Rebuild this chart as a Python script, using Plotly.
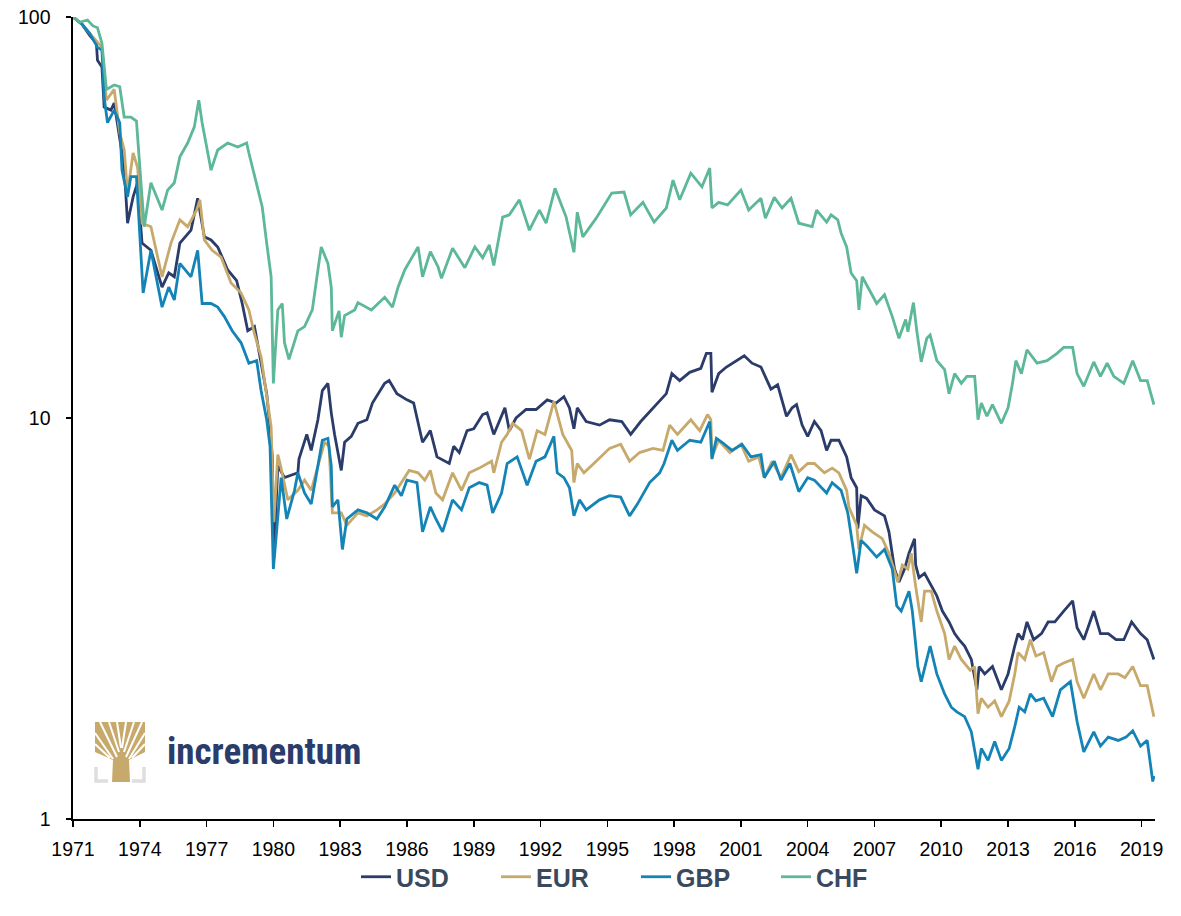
import plotly.graph_objects as go

# ---------------- data ----------------
tick_years = [1971, 1974, 1977, 1980, 1983, 1986, 1989, 1992, 1995, 1998,
              2001, 2004, 2007, 2010, 2013, 2016, 2019]
y_ticks = [1, 10, 100]

usd_years = [1971.0, 1971.4, 1971.75, 1972.05, 1972.1, 1972.3, 1972.4, 1972.7, 1972.85, 1973.1,
             1973.3, 1973.45, 1973.7, 1973.9, 1974.1, 1974.5, 1975.0, 1975.3, 1975.55, 1975.8,
             1976.3, 1976.6, 1976.9, 1977.2, 1977.5, 1977.95, 1978.35, 1978.6, 1978.85, 1979.15,
             1979.45, 1979.7, 1979.85, 1979.95, 1980.02, 1980.2, 1980.5, 1981.1, 1981.15, 1981.5,
             1981.7, 1982.0, 1982.2, 1982.45, 1982.6, 1982.75, 1983.05, 1983.2, 1983.5, 1983.8,
             1984.2, 1984.45, 1985.0, 1985.2, 1985.55, 1986.0, 1986.3, 1986.7, 1987.05, 1987.35,
             1987.9, 1988.1, 1988.35, 1988.7, 1989.0, 1989.4, 1989.6, 1989.9, 1990.4, 1990.6,
             1990.9, 1991.35, 1991.8, 1992.3, 1992.7, 1993.05, 1993.3, 1993.5, 1993.65, 1994.05,
             1994.65, 1995.1, 1995.65, 1996.05, 1996.5, 1997.0, 1997.35, 1997.65, 1997.9, 1998.25,
             1998.7, 1999.2, 1999.45, 1999.65, 1999.7, 2000.0, 2000.35, 2000.8, 2001.15, 2001.5,
             2001.9, 2002.35, 2002.65, 2003.05, 2003.3, 2003.5, 2003.75, 2004.0, 2004.3, 2004.6,
             2004.85, 2005.05, 2005.4, 2005.75, 2005.95, 2006.2, 2006.25, 2006.4, 2006.65, 2007.0,
             2007.45, 2007.65, 2007.9, 2008.1, 2008.35, 2008.55, 2008.8, 2008.85, 2009.0, 2009.25,
             2009.55, 2009.8, 2010.05, 2010.35, 2010.6, 2010.8, 2011.05, 2011.35, 2011.6, 2011.7,
             2011.95, 2012.3, 2012.7, 2013.0, 2013.3, 2013.45, 2013.65, 2013.85, 2014.15, 2014.5,
             2014.8, 2015.1, 2015.5, 2015.9, 2016.1, 2016.4, 2016.85, 2017.15, 2017.5, 2017.85,
             2018.2, 2018.55, 2018.95, 2019.25, 2019.55]
usd_values = [100, 96, 90, 86, 78, 75, 59.6, 58.6, 61, 49.3,
              42.2, 30.6, 35.6, 38.6, 27.3, 26.2, 21.2, 23, 22.5, 27.3,
              29.4, 35.3, 28.3, 27.8, 26.7, 23.4, 22, 19.3, 16.5, 16.9,
              13.7, 11.5, 9.5, 8.0, 4.5, 7.6, 7.1, 7.3, 7.9, 9.1,
              8.3, 9.9, 11.7, 12.2, 10.3, 9.1, 7.4, 8.7, 9.0, 9.7,
              9.9, 10.9, 12.2, 12.4, 11.5, 11.1, 10.9, 8.7, 9.3, 8.0,
              7.7, 8.5, 8.2, 9.3, 9.4, 10.2, 10.3, 9.1, 10.6, 9.3,
              10.0, 10.5, 10.5, 11.1, 10.9, 11.3, 10.6, 9.4, 10.6, 9.8,
              9.6, 9.9, 9.8, 9.1, 9.8, 10.5, 11.0, 11.5, 12.9, 12.4,
              13.0, 13.3, 14.5, 14.5, 11.6, 12.9, 13.4, 13.9, 14.3, 13.7,
              13.4, 11.8, 12.1, 10.1, 10.6, 10.8, 9.6, 9.0, 9.8, 9.3,
              8.3, 8.8, 8.8, 8.0, 7.1, 6.7, 5.3, 6.4, 6.3, 5.9,
              5.7, 5.2, 4.2, 3.9, 4.2, 4.6, 5.0, 4.3, 4.0, 4.1,
              3.8, 3.6, 3.3, 3.1, 2.9, 2.8, 2.7, 2.5, 2.1, 2.4,
              2.3, 2.4, 2.1, 2.3, 2.7, 2.9, 2.8, 3.1, 2.8, 2.9,
              3.1, 3.1, 3.3, 3.5, 3.0, 2.8, 3.3, 2.9, 2.9, 2.8,
              2.8, 3.1, 2.9, 2.8, 2.5]

eur_years = [1971.0, 1971.4, 1971.75, 1972.05, 1972.3, 1972.5, 1972.85, 1973.1, 1973.3, 1973.45,
             1973.7, 1973.9, 1974.1, 1974.5, 1975.0, 1975.4, 1975.8, 1976.15, 1976.55, 1976.7,
             1976.9, 1977.25, 1977.65, 1978.1, 1978.55, 1978.9, 1979.15, 1979.45, 1979.7, 1979.9,
             1980.02, 1980.2, 1980.3, 1980.65, 1981.1, 1981.4, 1981.7, 1982.0, 1982.3, 1982.5,
             1982.65, 1983.05, 1983.3, 1983.8, 1984.2, 1984.65, 1985.0, 1985.45, 1985.75, 1986.1,
             1986.5, 1986.8, 1987.05, 1987.3, 1987.6, 1988.05, 1988.45, 1988.8, 1989.25, 1989.8,
             1989.9, 1990.25, 1990.5, 1990.75, 1991.15, 1991.5, 1991.85, 1992.2, 1992.6, 1993.0,
             1993.4, 1993.5, 1993.65, 1993.95, 1994.5, 1995.1, 1995.6, 1996.0, 1996.45, 1997.05,
             1997.5, 1997.8, 1998.15, 1998.75, 1999.15, 1999.5, 1999.65, 1999.7, 2000.0, 2000.5,
             2001.0, 2001.35, 2001.8, 2002.05, 2002.4, 2002.8, 2003.25, 2003.6, 2004.0, 2004.3,
             2004.75, 2005.1, 2005.4, 2005.75, 2005.85, 2006.2, 2006.3, 2006.55, 2006.9, 2007.35,
             2007.65, 2008.05, 2008.25, 2008.5, 2008.65, 2008.85, 2009.1, 2009.25, 2009.55, 2009.8,
             2010.15, 2010.35, 2010.6, 2010.9, 2011.3, 2011.5, 2011.65, 2011.8, 2012.1, 2012.4,
             2012.7, 2013.05, 2013.3, 2013.45, 2013.75, 2014.0, 2014.25, 2014.6, 2014.95, 2015.2,
             2015.5, 2015.9, 2016.1, 2016.4, 2016.85, 2017.15, 2017.5, 2017.95, 2018.25, 2018.6,
             2018.95, 2019.25, 2019.55]
eur_values = [100, 96, 91, 87, 84, 62, 66, 51.4, 46.6, 36.4,
              45.8, 42.2, 30.6, 30.0, 22.5, 27.3, 31.2, 30, 33, 35,
              27.8, 26.2, 25.2, 21.7, 20.5, 18.6, 16.2, 14.2, 11.5, 9.5,
              5.5, 8.1, 7.7, 6.25, 6.6, 7.0, 6.6, 7.6, 8.7, 8.5,
              5.8, 5.8, 5.4, 5.8, 5.7, 5.9, 6.1, 6.5, 6.9, 7.4,
              7.3, 7.0, 7.4, 6.5, 6.25, 7.3, 6.6, 7.3, 7.5, 7.8,
              7.3, 8.7, 9.1, 9.7, 9.3, 7.9, 9.3, 9.1, 11.0, 9.1,
              8.3, 6.9, 7.7, 7.3, 7.8, 8.4, 8.6, 7.8, 8.2, 8.4,
              8.3, 9.6, 9.1, 9.9, 9.3, 10.2, 9.9, 8.0, 8.8, 8.2,
              8.6, 7.8, 8.0, 7.1, 7.8, 7.1, 8.1, 7.35, 7.7, 7.7,
              7.3, 7.5, 7.3, 6.6, 6.0, 5.4, 4.7, 5.4, 5.2, 5.0,
              4.6, 3.9, 4.3, 4.2, 4.6, 3.8, 3.1, 3.7, 3.7, 3.3,
              2.9, 2.5, 2.7, 2.5, 2.35, 2.4, 1.83, 2.0, 1.9, 1.97,
              1.8, 1.97, 2.3, 2.6, 2.5, 2.8, 2.55, 2.6, 2.2, 2.4,
              2.45, 2.5, 2.2, 2.0, 2.3, 2.1, 2.3, 2.3, 2.25, 2.4,
              2.15, 2.15, 1.8]

gbp_years = [1971.0, 1971.4, 1971.75, 1972.1, 1972.3, 1972.4, 1972.55, 1972.85, 1973.1, 1973.2,
             1973.45, 1973.6, 1973.85, 1973.9, 1974.15, 1974.5, 1975.0, 1975.3, 1975.55, 1975.8,
             1976.3, 1976.6, 1976.8, 1977.2, 1977.5, 1977.8, 1978.15, 1978.55, 1978.9, 1979.25,
             1979.45, 1979.7, 1979.85, 1980.0, 1980.35, 1980.6, 1980.95, 1981.1, 1981.4, 1981.7,
             1982.0, 1982.2, 1982.45, 1982.6, 1982.65, 1982.9, 1983.1, 1983.3, 1983.8, 1984.2,
             1984.65, 1985.0, 1985.45, 1985.75, 1986.0, 1986.45, 1986.7, 1987.05, 1987.3, 1987.6,
             1988.05, 1988.45, 1988.8, 1989.25, 1989.6, 1989.85, 1990.25, 1990.5, 1990.95, 1991.4,
             1991.8, 1992.2, 1992.6, 1992.75, 1993.05, 1993.3, 1993.5, 1993.75, 1994.05, 1994.65,
             1995.1, 1995.6, 1996.0, 1996.35, 1996.9, 1997.35, 1997.55, 1997.9, 1998.15, 1998.7,
             1999.2, 1999.6, 1999.7, 1999.9, 2000.15, 2000.6, 2001.05, 2001.45, 2001.9, 2002.05,
             2002.5, 2002.8, 2003.2, 2003.6, 2004.0, 2004.3, 2004.85, 2005.1, 2005.5, 2005.8,
             2006.0, 2006.2, 2006.4, 2006.65, 2007.1, 2007.45, 2007.8, 2008.0, 2008.2, 2008.55,
             2008.7, 2008.95, 2009.1, 2009.5, 2009.8, 2010.15, 2010.45, 2010.7, 2011.05, 2011.35,
             2011.65, 2011.8, 2012.1, 2012.4, 2012.7, 2013.05, 2013.3, 2013.5, 2013.75, 2014.0,
             2014.25, 2014.6, 2015.0, 2015.35, 2015.8, 2016.1, 2016.4, 2016.85, 2017.15, 2017.5,
             2017.95, 2018.3, 2018.6, 2018.95, 2019.25, 2019.5, 2019.55]
gbp_values = [100, 96, 91, 84, 82.7, 63, 54.5, 58.6, 54.5, 41.5,
              35.6, 40, 40, 35.6, 20.5, 26.2, 18.9, 21.2, 19.7, 24.3,
              22.5, 26.2, 19.3, 19.3, 18.9, 17.9, 16.5, 15.4, 13.7, 13.9,
              11.7, 9.9, 8.5, 4.2, 7.1, 5.6, 6.6, 7.3, 6.5, 6.1,
              7.6, 8.8, 8.9, 7.6, 6.0, 6.25, 4.7, 5.6, 5.9, 5.8,
              5.6, 6.0, 6.8, 6.4, 7.0, 6.9, 5.2, 6.0, 5.6, 5.2,
              6.25, 5.9, 6.7, 6.9, 6.8, 5.8, 6.5, 7.7, 8.0, 6.8,
              7.8, 8.0, 9.0, 7.3, 7.1, 6.7, 5.7, 6.25, 5.9, 6.25,
              6.4, 6.35, 5.7, 6.1, 6.9, 7.3, 7.7, 8.8, 8.3, 8.8,
              8.7, 9.8, 7.9, 8.9, 8.7, 8.3, 8.6, 8.0, 8.1, 7.1,
              7.8, 7.0, 7.7, 6.55, 7.1, 7.0, 6.5, 6.9, 6.6, 5.8,
              4.9, 4.1, 4.95, 4.8, 4.5, 4.7, 4.2, 3.4, 3.3, 3.7,
              3.3, 2.4, 2.2, 2.7, 2.3, 2.05, 1.9, 1.85, 1.8, 1.65,
              1.33, 1.5, 1.4, 1.56, 1.4, 1.5, 1.7, 1.9, 1.85, 2.05,
              1.97, 2.0, 1.8, 2.1, 2.2, 1.75, 1.47, 1.65, 1.52, 1.6,
              1.57, 1.6, 1.66, 1.52, 1.57, 1.24, 1.28]

chf_years = [1971.0, 1971.3, 1971.65, 1971.9, 1972.1, 1972.3, 1972.5, 1972.85, 1973.1, 1973.3,
             1973.6, 1973.85, 1974.1, 1974.2, 1974.5, 1975.0, 1975.25, 1975.55, 1975.8, 1976.15,
             1976.45, 1976.65, 1976.8, 1977.2, 1977.5, 1977.95, 1978.4, 1978.8, 1978.9, 1979.15,
             1979.5, 1979.7, 1979.9, 1980.0, 1980.2, 1980.4, 1980.5, 1980.7, 1981.1, 1981.4,
             1981.75, 1982.0, 1982.15, 1982.45, 1982.6, 1982.65, 1982.95, 1983.05, 1983.2, 1983.65,
             1983.8, 1984.4, 1985.0, 1985.35, 1985.6, 1985.9, 1986.5, 1986.7, 1987.05, 1987.4,
             1987.55, 1988.05, 1988.6, 1989.05, 1989.4, 1989.7, 1989.9, 1990.3, 1990.6, 1991.05,
             1991.5, 1991.95, 1992.25, 1992.65, 1993.15, 1993.5, 1993.65, 1993.9, 1994.5, 1995.2,
             1995.75, 1996.05, 1996.6, 1997.1, 1997.65, 1997.95, 1998.25, 1998.75, 1999.25, 1999.6,
             1999.7, 2000.0, 2000.4, 2001.0, 2001.35, 2001.9, 2002.1, 2002.5, 2002.85, 2003.25,
             2003.6, 2004.2, 2004.4, 2004.85, 2005.05, 2005.35, 2005.5, 2005.75, 2005.95, 2006.2,
             2006.3, 2006.45, 2006.7, 2007.1, 2007.45, 2007.8, 2008.1, 2008.4, 2008.5, 2008.75,
             2008.9, 2009.1, 2009.35, 2009.5, 2009.8, 2010.15, 2010.35, 2010.6, 2010.9, 2011.15,
             2011.5, 2011.65, 2011.8, 2012.05, 2012.3, 2012.7, 2013.0, 2013.2, 2013.35, 2013.6,
             2013.85, 2014.3, 2014.75, 2015.2, 2015.5, 2015.9, 2016.1, 2016.4, 2016.85, 2017.15,
             2017.45, 2017.75, 2018.2, 2018.6, 2018.95, 2019.25, 2019.55]
chf_values = [100, 97, 98.3, 95, 94, 86, 66, 67.7, 67, 56.3,
              56.3, 55, 35.6, 30, 38.6, 33, 37, 38.6, 44.8, 48.5,
              53.2, 62, 54.5, 41.5, 46.6, 48.5, 47.4, 48.5, 45.8, 40,
              33.6, 27.3, 22.5, 12.2, 18.6, 19.3, 15.4, 14.0, 16.5, 16.9,
              18.6, 23.4, 26.7, 24.3, 21.2, 16.5, 18.5, 15.9, 18.0, 18.6,
              19.4, 18.6, 20.0, 18.9, 21.2, 23.4, 26.7, 22.5, 26.0, 23.8,
              22.3, 26.5, 23.7, 26.7, 25.1, 27, 24, 31.7, 32.1, 35,
              29.4, 33, 30.6, 37.4, 31.7, 25.9, 32.6, 28.3, 31.5, 36.4,
              36.6, 32.1, 34.5, 30.8, 33.4, 39.2, 35, 40.8, 37.7, 42,
              33.4, 34.5, 34, 37, 33, 35.3, 31.5, 35.5, 33.4, 35.3,
              30.6, 30, 33, 30.8, 32.1, 31.2, 28.9, 26.7, 23, 22,
              18.6, 22.5, 21.2, 19.3, 20.3, 17.9, 15.8, 17.6, 16.4, 19.4,
              16.5, 13.8, 15.8, 16.1, 13.9, 13.2, 11.5, 12.9, 12.2, 12.7,
              12.7, 9.9, 10.9, 10.1, 10.8, 9.7, 10.6, 12.2, 13.9, 12.9,
              14.8, 13.7, 13.9, 14.5, 15, 15, 12.9, 12, 13.8, 12.7,
              13.7, 12.7, 12.2, 13.9, 12.4, 12.4, 10.8]

series_names = ["USD", "EUR", "GBP", "CHF"]
series_colors = ["#2b3c6b", "#c6a96b", "#1484b6", "#5cb896"]

# ---------------- figure ----------------
W, H = 1181, 916
ML, MT = 73, 17
MR = W - ML - 1082
MB = H - MT - 802
PW, PH = W - ML - MR, H - MT - MB


def px(x):
    """screen pixel x -> paper x"""
    return (x - ML) / PW


def py(y):
    """screen pixel y -> paper y"""
    return (H - MB - y) / PH


fig = go.Figure()
for name, xs, ys, col in zip(series_names,
                             [usd_years, eur_years, gbp_years, chf_years],
                             [usd_values, eur_values, gbp_values, chf_values],
                             series_colors):
    fig.add_trace(go.Scatter(x=xs, y=ys, name=name, mode="lines",
                             line=dict(color=col, width=2.8)))

axis_font = dict(family="Liberation Sans, Arial, sans-serif", size=19.5, color="black")

fig.update_layout(
    template="none",
    width=W, height=H,
    margin=dict(l=ML, r=MR, t=MT, b=MB, autoexpand=False),
    paper_bgcolor="white", plot_bgcolor="white",
    showlegend=True,
    legend=dict(orientation="h", x=px(356), xanchor="left", y=py(877), yanchor="middle",
                font=dict(family="Liberation Sans, Arial, sans-serif", size=25,
                          color="#3a4a5e", weight="bold"),
                entrywidth=95, entrywidthmode="pixels", bgcolor="rgba(0,0,0,0)"),
    xaxis=dict(range=[1971, 2019.6], tickvals=tick_years, ticktext=[str(t) for t in tick_years],
               showgrid=False, zeroline=False, showline=True, linecolor="black", linewidth=1.6,
               ticks="outside", ticklen=6, tickwidth=1.6, tickcolor="black", automargin=False,
               tickfont=axis_font, ticklabelstandoff=6, ticklabeloverflow="allow"),
    yaxis=dict(type="log", range=[0, 2], tickvals=y_ticks, ticktext=[str(t) for t in y_ticks],
               showgrid=False, zeroline=False, showline=True, linecolor="black", linewidth=1.6,
               ticks="outside", ticklen=5, tickwidth=1.6, tickcolor="black", automargin=False,
               tickfont=axis_font, ticklabelstandoff=12, ticklabeloverflow="allow"),
)

# ---------------- logo (decoration) ----------------
gold = "#c6a96b"
shapes = []


def path_from(pts, close=True):
    s = "M " + " L ".join("{} {}".format(px(a), py(b)) for a, b in pts)
    return s + (" Z" if close else "")


# crown (filled) + trunk
shapes.append(dict(type="path", xref="paper", yref="paper",
                   path=path_from([(95, 722), (145, 722), (145, 752), (129, 760), (130, 782),
                                   (112, 782), (113, 760), (95, 752)]),
                   fillcolor=gold, line=dict(width=0), layer="above"))
# white branch gaps
for (x0, y0, x1, y1) in [(117, 757, 100, 722), (119, 752, 109, 722), (121, 748, 117, 722),
                         (122, 748, 126, 722), (124, 752, 134, 722), (126, 757, 142, 722),
                         (113, 759, 95, 733), (129, 759, 145, 733), (110, 758, 95, 744),
                         (132, 758, 145, 744)]:
    shapes.append(dict(type="line", xref="paper", yref="paper",
                       x0=px(x0), y0=py(y0), x1=px(x1), y1=py(y1),
                       line=dict(color="white", width=2), layer="above"))
# grey brackets
for pts in [[(96, 767), (96, 781), (108, 781)], [(144, 767), (144, 781), (132, 781)]]:
    shapes.append(dict(type="path", xref="paper", yref="paper", path=path_from(pts, close=False),
                       line=dict(color="#dedede", width=3.5), layer="above"))
fig.update_layout(shapes=shapes)

fig.add_annotation(text="incrementum", xref="paper", yref="paper", x=px(165), y=py(751),
                   xanchor="left", yanchor="middle", showarrow=False,
                   font=dict(family="Liberation Sans Narrow, Roboto Condensed, Roboto, sans-serif",
                             size=37, color="#2b3c6b", weight="bold"))

# remove the default page margin so the figure sits at the window's top-left corner
fig.write_html("out.html",
               config={"displayModeBar": False, "staticPlot": True},
               post_script="document.body.style.margin='0';document.body.style.overflow='hidden';")
